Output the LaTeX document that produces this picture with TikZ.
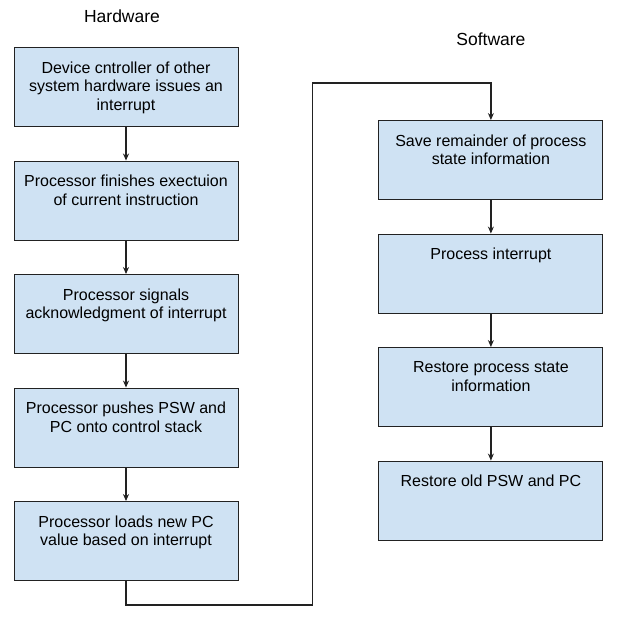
\documentclass[tikz,border=0pt]{standalone}
\usepackage{fontspec}
\setmainfont{Liberation Sans}
\usepackage{tikz}
\usetikzlibrary{positioning, arrows.meta}

\definecolor{boxblue}{RGB}{207,226,243}
\definecolor{lineblack}{RGB}{34,34,34}

\begin{document}
\begin{tikzpicture}[>={Stealth[length=7pt,width=6pt]}, x=1pt, y=-1pt,
    procbox/.style={draw=lineblack, line width=0.9pt, fill=boxblue,
        inner xsep=9pt, inner ysep=14pt, minimum width=224pt, minimum height=79pt,
        font=\fontsize{16}{18.5}\selectfont,
        execute at begin node={\begin{minipage}[t][51pt][t]{206pt}\centering},
        execute at end node={\end{minipage}}},
    title/.style={font=\fontsize{17.5}{20}\selectfont, inner sep=0pt},
    link/.style={->, draw=lineblack, line width=1.3pt},
    node distance=33.6pt]

    % frame of the page
    \useasboundingbox (0,0) rectangle (618,620);

    % Hardware column
    \node[procbox] (hw1) at (126,87) {Device cntroller of other\\system hardware issues an\\interrupt};
    \node[procbox, below=of hw1] (hw2) {Processor finishes exectuion\\of current instruction};
    \node[procbox, below=of hw2] (hw3) {Processor signals\\acknowledgment of interrupt};
    \node[procbox, below=of hw3] (hw4) {Processor pushes PSW and\\PC onto control stack};
    \node[procbox, below=of hw4] (hw5) {Processor loads new PC\\value based on interrupt};

    % Software column
    \node[procbox, right=140pt of hw1, yshift=-73pt] (sw1) {Save remainder of process\\state information};
    \node[procbox, below=of sw1] (sw2) {Process interrupt};
    \node[procbox, below=of sw2] (sw3) {Restore process state\\information};
    \node[procbox, below=of sw3] (sw4) {Restore old PSW and PC};

    % Titles
    \node[title, above=24pt of hw1, xshift=-4pt] (hwtitle) {Hardware};
    \node[title, above=74pt of sw1] (swtitle) {Software};

    % Arrows in each column
    \foreach \a/\b in {hw1/hw2, hw2/hw3, hw3/hw4, hw4/hw5, sw1/sw2, sw2/sw3, sw3/sw4}
        \draw[link] (\a) -- (\b);

    % Jump from hardware to software
    \coordinate[below=24pt of hw5.south] (low);
    \coordinate (jog) at ([xshift=74pt]hw5.east |- low);
    \coordinate[above=37pt of sw1.north] (high);
    \draw[link] (hw5.south) |- (jog) |- (high) -- (sw1.north);
\end{tikzpicture}
\end{document}
